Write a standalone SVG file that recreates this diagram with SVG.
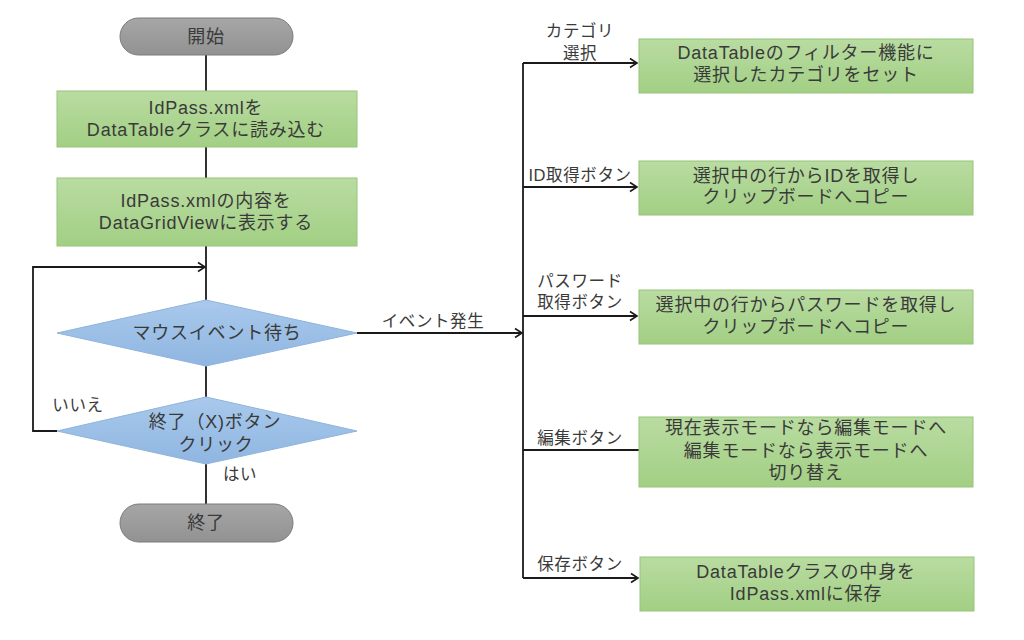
<svg xmlns="http://www.w3.org/2000/svg" width="1024" height="640" viewBox="0 0 1024 640">
<defs>
<linearGradient id="gGreen" x1="0" y1="0" x2="0" y2="1">
<stop offset="0" stop-color="#b9dca1"/>
<stop offset="1" stop-color="#a2cf84"/>
</linearGradient>
<linearGradient id="gGray" x1="0" y1="0" x2="0" y2="1">
<stop offset="0" stop-color="#a6a6a6"/>
<stop offset="1" stop-color="#929292"/>
</linearGradient>
<linearGradient id="gBlue" x1="0" y1="0" x2="0" y2="1">
<stop offset="0" stop-color="#a9c9ec"/>
<stop offset="1" stop-color="#8fb6e1"/>
</linearGradient>
<marker id="arr" markerWidth="12" markerHeight="12" refX="10" refY="6" orient="auto" markerUnits="userSpaceOnUse">
<polyline points="3,1.5 10,6 3,10.5" fill="none" stroke="#1a1a1a" stroke-width="1.6"/>
</marker>
<style>
text{font-family:"Liberation Sans","Noto Sans CJK JP",sans-serif;fill:#3a3a3a;text-anchor:middle;dominant-baseline:central}
.t{font-size:18px;letter-spacing:0.8px}
.l{font-size:16.5px;letter-spacing:0.6px}
.box{fill:url(#gGreen);stroke:#97c47a;stroke-width:1}
.term{fill:url(#gGray);stroke:#7a7a7a;stroke-width:1}
.dia{fill:url(#gBlue);stroke:#8fb4dc;stroke-width:1}
.c{fill:none;stroke:#1a1a1a;stroke-width:1.8}
</style>
</defs>
<rect width="1024" height="640" fill="#ffffff"/>

<g id="connectors">
<line class="c" x1="206" y1="55" x2="206" y2="91"/>
<line class="c" x1="206" y1="147" x2="206" y2="178"/>
<line class="c" x1="206" y1="246" x2="206" y2="300"/>
<line class="c" x1="206" y1="366" x2="206" y2="397"/>
<line class="c" x1="206" y1="464" x2="206" y2="504"/>
<polyline class="c" points="57,431 33,431 33,267 205,267" marker-end="url(#arr)"/>
<line class="c" x1="357" y1="333" x2="522" y2="333" marker-end="url(#arr)"/>
<line class="c" x1="523" y1="63" x2="523" y2="578"/>
<line class="c" x1="523" y1="63" x2="637" y2="63" marker-end="url(#arr)"/>
<line class="c" x1="523" y1="187" x2="637" y2="187" marker-end="url(#arr)"/>
<line class="c" x1="523" y1="316" x2="637" y2="316" marker-end="url(#arr)"/>
<line class="c" x1="523" y1="450" x2="639" y2="450"/>
<line class="c" x1="523" y1="578" x2="638" y2="578" marker-end="url(#arr)"/>
<text class="l" x="78" y="405">いいえ</text>
<text class="l" x="240" y="474">はい</text>
<text class="l" x="433" y="321">イベント発生</text>
<text class="l" x="580" y="31">カテゴリ</text>
<text class="l" x="580" y="53">選択</text>
<text class="l" x="580" y="175">ID取得ボタン</text>
<text class="l" x="580" y="281">パスワード</text>
<text class="l" x="580" y="302">取得ボタン</text>
<text class="l" x="580" y="438">編集ボタン</text>
<text class="l" x="580" y="564">保存ボタン</text>
</g>

<g id="start">
<rect class="term" x="120" y="18" width="173" height="37" rx="18.5"/>
<text class="t" x="206" y="37">開始</text>
</g>

<g id="load">
<rect class="box" x="57" y="91" width="300" height="56"/>
<text class="t" x="206" y="108">IdPass.xmlを</text>
<text class="t" x="206" y="130">DataTableクラスに読み込む</text>
</g>

<g id="display">
<rect class="box" x="57" y="178" width="300" height="68"/>
<text class="t" x="206" y="201">IdPass.xmlの内容を</text>
<text class="t" x="206" y="223">DataGridViewに表示する</text>
</g>

<g id="wait">
<polygon class="dia" points="206,300 357,333 206,366 57,333"/>
<text class="t" x="217" y="333">マウスイベント待ち</text>
</g>

<g id="exitcheck">
<polygon class="dia" points="206,397 357,431 206,464 57,431"/>
<text class="t" x="215" y="422">終了（X)ボタン</text>
<text class="t" x="216" y="445">クリック</text>
</g>

<g id="end">
<rect class="term" x="120" y="504" width="173" height="38" rx="19"/>
<text class="t" x="206" y="523">終了</text>
</g>

<g id="filter">
<rect class="box" x="639" y="39" width="334" height="54"/>
<text class="t" x="806" y="53">DataTableのフィルター機能に</text>
<text class="t" x="806" y="75">選択したカテゴリをセット</text>
</g>

<g id="copyid">
<rect class="box" x="639" y="161" width="334" height="54"/>
<text class="t" x="806" y="176">選択中の行からIDを取得し</text>
<text class="t" x="806" y="197">クリップボードへコピー</text>
</g>

<g id="copypw">
<rect class="box" x="639" y="290" width="334" height="54"/>
<text class="t" x="806" y="305">選択中の行からパスワードを取得し</text>
<text class="t" x="806" y="327">クリップボードへコピー</text>
</g>

<g id="toggle">
<rect class="box" x="639" y="417" width="334" height="70"/>
<text class="t" x="806" y="428">現在表示モードなら編集モードへ</text>
<text class="t" x="806" y="451">編集モードなら表示モードへ</text>
<text class="t" x="806" y="473">切り替え</text>
</g>

<g id="save">
<rect class="box" x="640" y="557" width="334" height="54"/>
<text class="t" x="806" y="572">DataTableクラスの中身を</text>
<text class="t" x="806" y="594">IdPass.xmlに保存</text>
</g>
</svg>
